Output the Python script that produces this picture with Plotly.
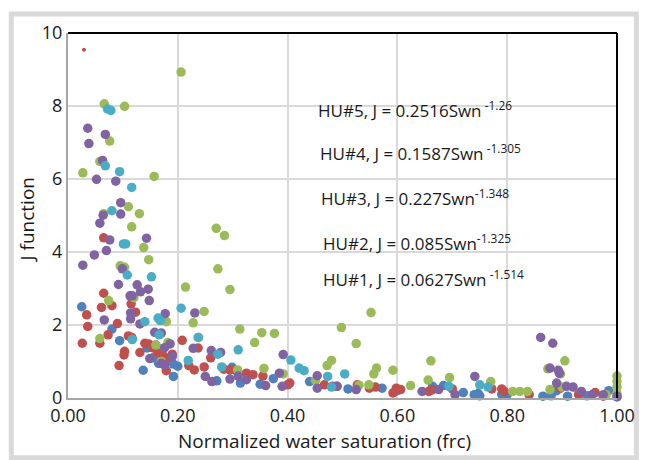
import plotly.graph_objects as go

# ---------------- data ----------------
hu1_x = [0.025,0.094,0.117,0.08,0.137,0.192,0.192,0.182,0.144,0.155,0.165,0.374,0.299,0.271,0.314,0.49,0.51,0.572,0.664,0.684,0.74,0.747,0.75,0.79,0.80,0.865,0.88,0.89,0.91,0.945,0.985,1.0,0.72,0.60,0.44,0.35,0.2]
hu1_y = [2.5,1.57,1.62,1.89,0.76,0.59,0.93,1.05,1.37,1.1,0.95,0.53,0.84,0.47,0.41,0.32,0.25,0.27,0.32,0.34,0.09,0.12,0.06,0.1,0.09,0.05,0.06,0.2,0.05,0.06,0.2,0.03,0.15,0.2,0.45,0.38,0.87]

hu2_x = [0.065,0.065,0.08,0.061,0.034,0.036,0.09,0.115,0.123,0.073,0.026,0.058,0.11,0.116,0.103,0.102,0.131,0.093,0.14,0.147,0.155,0.164,0.173,0.181,0.179,0.208,0.237,0.22,0.23,0.248,0.284,0.295,0.306,0.325,0.337,0.355,0.4,0.404,0.467,0.482,0.527,0.549,0.56,0.592,0.598,0.606,0.657,0.663,0.7,0.772,0.79,0.795,0.84,0.93,0.96,0.975,0.897,0.16,0.19,0.26]
hu2_y = [4.39,2.87,2.53,2.48,2.28,1.96,2.04,2.58,2.35,1.73,1.5,1.5,1.7,1.66,1.28,1.18,1.25,0.89,1.5,1.48,1.37,1.23,1.16,1.09,0.75,1.58,1.37,0.89,0.77,0.85,0.79,0.77,0.75,0.68,0.64,0.6,0.36,0.41,0.36,0.32,0.36,0.27,0.3,0.14,0.27,0.23,0.18,0.22,0.25,0.25,0.25,0.18,0.09,0.09,0.15,0.05,0.27,1.45,1.2,1.1]

outlier_x = [0.029]
outlier_y = [9.54]

hu3_x = [0.206,0.066,0.103,0.076,0.027,0.157,0.058,0.065,0.11,0.13,0.116,0.138,0.147,0.095,0.103,0.27,0.285,0.273,0.295,0.214,0.074,0.12,0.248,0.228,0.179,0.313,0.353,0.376,0.34,0.058,0.182,0.238,0.498,0.525,0.552,0.661,0.905,0.48,0.472,0.562,0.557,0.592,0.695,0.656,0.77,0.624,0.392,0.357,0.309,0.451,0.874,0.878,0.897,0.81,0.823,0.837,1.0,1.0,1.0,1.0,0.548,0.16,0.17,0.98,0.53,0.9]
hu3_y = [8.93,8.06,7.99,7.04,6.17,6.07,6.48,5.05,5.24,5.05,4.69,4.12,3.79,3.62,3.58,4.65,4.45,3.54,2.97,3.04,2.67,2.75,2.37,2.06,2.09,1.89,1.79,1.77,1.52,1.63,1.52,1.66,1.93,1.49,2.34,1.02,1.02,1.03,0.89,0.82,0.66,0.76,0.56,0.49,0.45,0.34,0.66,0.81,0.77,0.48,0.8,0.23,0.66,0.18,0.18,0.18,0.6,0.45,0.3,0.12,0.36,1.45,1.0,0.09,0.35,0.3]

hu4_x = [0.036,0.068,0.038,0.063,0.052,0.087,0.096,0.096,0.064,0.058,0.076,0.143,0.07,0.048,0.027,0.099,0.092,0.126,0.146,0.132,0.113,0.117,0.148,0.231,0.177,0.114,0.114,0.066,0.131,0.158,0.17,0.186,0.176,0.228,0.261,0.278,0.149,0.19,0.392,0.861,0.883,0.878,0.893,0.895,0.89,0.908,0.741,0.454,0.454,0.385,0.25,0.262,0.295,0.325,0.36,0.39,0.49,0.525,0.645,0.675,0.705,0.935,0.955,0.975,1.0,0.176,0.17,0.92,0.31]
hu4_y = [7.39,7.22,6.97,6.51,5.99,5.94,5.35,5.04,5.01,4.79,4.33,4.38,4.04,3.92,3.64,3.54,3.11,3.1,2.98,2.91,2.8,2.8,2.67,2.33,2.31,2.33,2.17,2.14,2.03,1.8,1.78,1.48,1.38,1.36,1.3,1.25,1.08,1.14,1.19,1.66,1.5,0.82,0.76,0.68,0.41,0.32,0.59,0.61,0.27,0.68,0.59,0.45,0.52,0.5,0.34,0.32,0.32,0.23,0.18,0.23,0.09,0.18,0.09,0.09,0.05,0.91,0.95,0.3,0.6]

hu5_x = [0.072,0.078,0.068,0.094,0.116,0.08,0.101,0.105,0.108,0.152,0.206,0.14,0.164,0.168,0.166,0.237,0.31,0.219,0.273,0.28,0.406,0.421,0.473,0.504,0.694,0.75,0.117,0.48,0.43,0.765]
hu5_y = [7.92,7.88,6.36,6.2,5.77,5.13,4.22,4.22,3.37,3.32,2.46,2.09,2.19,2.12,1.73,1.66,1.32,1.03,1.2,0.85,1.04,0.82,0.59,0.66,0.32,0.36,1.6,0.3,0.75,0.3]

equations = [
    ("HU#5, J = 0.2516Swn", " -1.26", 7.9),
    ("HU#4, J = 0.1587Swn", " -1.305", 6.72),
    ("HU#3, J = 0.227Swn", "-1.348", 5.49),
    ("HU#2, J = 0.085Swn", "-1.325", 4.26),
    ("HU#1, J = 0.0627Swn", " -1.514", 3.28),
]
eq_x = [0.451, 0.456, 0.458, 0.461, 0.460]

x_ticks = [0.0, 0.2, 0.4, 0.6, 0.8, 1.0]
x_ticklabels = ["0.00", "0.20", "0.40", "0.60", "0.80", "1.00"]
y_ticks = [0, 2, 4, 6, 8, 10]

FONT = "Open Sans"
TXT = "#1a1a1a"
colors = {"hu1": "#4F81BD", "hu2": "#C0504D", "hu3": "#9BBB59", "hu4": "#8064A2", "hu5": "#4BACC6"}

fig = go.Figure()
series = [("HU#1", hu1_x, hu1_y, colors["hu1"]),
          ("HU#2", hu2_x, hu2_y, colors["hu2"]),
          ("HU#3", hu3_x, hu3_y, colors["hu3"]),
          ("HU#4", hu4_x, hu4_y, colors["hu4"]),
          ("HU#5", hu5_x, hu5_y, colors["hu5"])]
for name, xs, ys, c in series:
    fig.add_trace(go.Scatter(x=xs, y=ys, mode="markers", name=name,
                             marker=dict(size=9.5, color=c, line=dict(width=0)),
                             cliponaxis=False))
fig.add_trace(go.Scatter(x=outlier_x, y=outlier_y, mode="markers", name="HU#2 outlier",
                         marker=dict(size=4, color=colors["hu2"], line=dict(width=0))))

annotations = []
for (txt, sup, yv), xv in zip(equations, eq_x):
    annotations.append(dict(x=xv, y=yv, xref="x", yref="y", xanchor="left", yanchor="middle",
                            text=f"{txt}<sup>{sup}</sup>", showarrow=False,
                            font=dict(family=FONT, size=17, color=TXT)))
# axis titles
annotations.append(dict(x=0.467, y=-0.117, xref="paper", yref="paper", xanchor="center", yanchor="middle",
                        text="Normalized water saturation (frc)", showarrow=False,
                        font=dict(family=FONT, size=19, color=TXT)))
annotations.append(dict(x=-0.074, y=0.49, xref="paper", yref="paper", xanchor="center", yanchor="middle",
                        text="J function", textangle=-90, showarrow=False,
                        font=dict(family=FONT, size=19, color=TXT)))

shapes = [
    # outer frame
    dict(type="rect", xref="paper", yref="paper", x0=-0.1033, x1=1.0353, y0=-0.164, y1=1.052,
         line=dict(color="#d9d9d9", width=5), fillcolor="rgba(0,0,0,0)", layer="below"),
    # top and right black borders
    dict(type="line", xref="paper", yref="paper", x0=0, x1=1, y0=1, y1=1, line=dict(color="black", width=2)),
    dict(type="line", xref="paper", yref="paper", x0=1, x1=1, y0=0, y1=1, line=dict(color="black", width=2)),
]

# the page body adds an 8px offset; the figure is sized/margined to compensate
fig.update_layout(
    width=639, height=452,
    margin=dict(l=60, r=27, t=24, b=62),
    paper_bgcolor="white", plot_bgcolor="white",
    showlegend=False,
    font=dict(family=FONT, size=18, color=TXT),
    annotations=annotations, shapes=shapes,
)
fig.update_xaxes(range=[0, 1], tickvals=x_ticks, ticktext=x_ticklabels,
                 showgrid=True, gridcolor="#d9d9d9", gridwidth=2,
                 showline=True, linecolor="#a6a6a6", linewidth=2,
                 zeroline=False, ticks="", tickfont=dict(family=FONT, size=18, color=TXT))
fig.update_yaxes(range=[0, 10], tickvals=y_ticks,
                 showgrid=True, gridcolor="#d9d9d9", gridwidth=2,
                 showline=True, linecolor="#a6a6a6", linewidth=2,
                 zeroline=False, ticks="", tickfont=dict(family=FONT, size=18, color=TXT))

fig.write_html("out.html")
